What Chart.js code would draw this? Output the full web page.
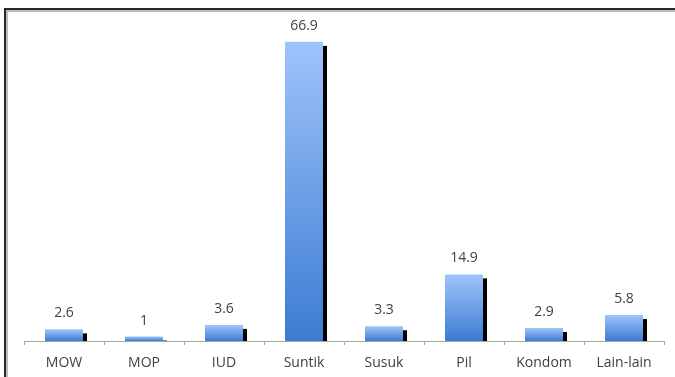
<!DOCTYPE html>
<html>
<head>
<meta charset="utf-8">
<script src="https://cdn.jsdelivr.net/npm/chart.js@4.4.1/dist/chart.umd.min.js"></script>
<style>
  html, body { margin: 0; padding: 0; background: #fff; }
  #wrap { position: relative; width: 675px; height: 377px; }
</style>
</head>
<body>
<div id="wrap"><canvas id="c" width="675" height="377"></canvas></div>
<script>
const categories = ['MOW', 'MOP', 'IUD', 'Suntik', 'Susuk', 'Pil', 'Kondom', 'Lain-lain'];
const values = [2.6, 1, 3.6, 66.9, 3.3, 14.9, 2.9, 5.8];
const valueLabels = ['2.6', '1', '3.6', '66.9', '3.3', '14.9', '2.9', '5.8'];

const FONT = '"Open Sans", "Liberation Sans", sans-serif';

const frame = {
  id: 'frame',
  beforeDraw(chart) {
    const ctx = chart.ctx;
    ctx.save();
    ctx.fillStyle = '#bdbdbd';
    ctx.fillRect(6, 10, 2, 367);
    ctx.fillRect(6, 10, 669, 2);
    ctx.fillStyle = '#2a2a2a';
    ctx.fillRect(4, 8, 2, 369);
    ctx.fillRect(4, 8, 671, 2);
    ctx.restore();
  }
};

const shadows = {
  id: 'shadows',
  beforeDatasetsDraw(chart) {
    const ctx = chart.ctx;
    const meta = chart.getDatasetMeta(0);
    ctx.save();
    ctx.fillStyle = '#000';
    meta.data.forEach(bar => {
      const p = bar.getProps(['x', 'y', 'base', 'width'], true);
      const top = p.y + 4;
      if (p.base - top > 0) {
        ctx.fillRect(p.x + p.width / 2, top, 4, p.base - top);
      }
    });
    ctx.restore();
  }
};

const valueText = {
  id: 'valueText',
  afterDatasetsDraw(chart) {
    const ctx = chart.ctx;
    const meta = chart.getDatasetMeta(0);
    ctx.save();
    ctx.fillStyle = '#404040';
    ctx.font = '14px ' + FONT;
    ctx.textAlign = 'center';
    ctx.textBaseline = 'alphabetic';
    meta.data.forEach((bar, i) => {
      const p = bar.getProps(['x', 'y'], true);
      ctx.fillText(valueLabels[i], p.x, p.y - 12);
    });
    ctx.restore();
  }
};

new Chart(document.getElementById('c'), {
  type: 'bar',
  data: {
    labels: categories,
    datasets: [{
      data: values,
      backgroundColor(ctx) {
        const chart = ctx.chart;
        if (!chart.chartArea || ctx.type !== 'data') return '#5a8fe0';
        const ys = chart.scales.y;
        const top = ys.getPixelForValue(ctx.raw);
        const bottom = ys.getPixelForValue(0);
        if (!(bottom > top)) return '#5a8fe0';
        const g = chart.ctx.createLinearGradient(0, top, 0, bottom);
        g.addColorStop(0, '#9fc4fb');
        g.addColorStop(1, '#3c7bd2');
        return g;
      },
      borderWidth: 0,
      barPercentage: 0.475,
      categoryPercentage: 1
    }]
  },
  options: {
    responsive: false,
    animation: false,
    devicePixelRatio: 1,
    layout: { padding: { left: 24, right: 11, top: 28, bottom: 0 } },
    plugins: { legend: { display: false }, tooltip: { enabled: false } },
    scales: {
      x: {
        afterFit(scale) { scale.height = 36; },
        grid: { display: true, drawOnChartArea: false, drawTicks: true, tickLength: 4, color: '#a6a6a6', offset: true },
        border: { display: true, color: '#a6a6a6', width: 1 },
        ticks: { color: '#404040', font: { family: FONT, size: 14 }, padding: 10, maxRotation: 0 }
      },
      y: {
        display: false,
        min: 0,
        max: 70
      }
    }
  },
  plugins: [frame, shadows, valueText]
});
</script>
</body>
</html>
